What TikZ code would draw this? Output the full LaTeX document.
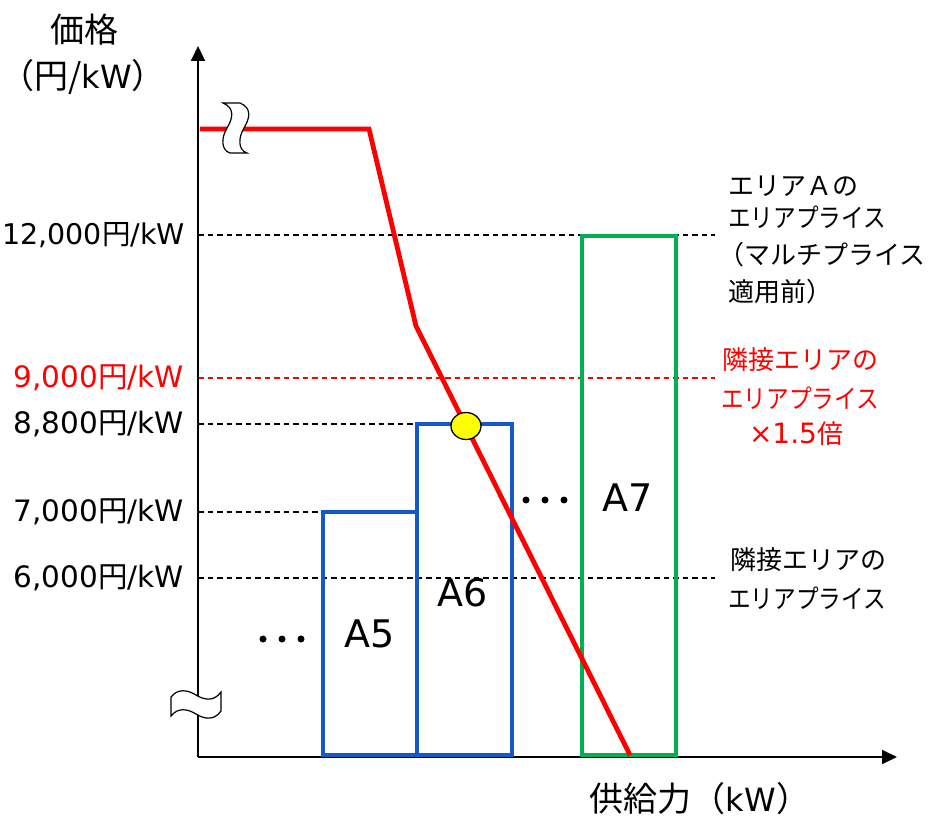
\documentclass[tikz,border=0pt]{standalone}
\usepackage{fontspec}
\setmainfont{DejaVu Sans}
\newfontfamily\jp{Noto Sans CJK JP}
\usetikzlibrary{arrows.meta,shapes.geometric}
\definecolor{myblue}{HTML}{1558C8}
\definecolor{mygreen}{HTML}{00B050}
\definecolor{myyellow}{HTML}{FFFF00}
\newcommand{\narrowtxt}[1]{\scalebox{0.87}[1]{#1}}
\begin{document}
\begin{tikzpicture}[x=1pt,y=-1pt,
  ylab/.style={anchor=east, inner sep=0pt, font=\fontsize{29.5}{31}\selectfont},
  jplab/.style={anchor=west, inner sep=0pt, font=\jp\fontsize{26}{28}\selectfont},
  redlab/.style={anchor=center, inner sep=0pt, text=red, font=\jp\fontsize{26}{28}\selectfont},
  titlelab/.style={anchor=center, inner sep=0pt, font=\jp\fontsize{34}{36}\selectfont},
  alab/.style={anchor=center, inner sep=0pt, font=\fontsize{38}{40}\selectfont},
  dashline/.style={dash pattern=on 5.5pt off 4pt, line width=1.2pt},
  axisline/.style={line width=1.8pt, -{Triangle[length=15pt,width=14pt]}},
  boxline/.style={line width=4.8pt},
  brk/.style={fill=white, draw=black, line width=1.2pt},
  dotmark/.style={fill=black}
]
\useasboundingbox (0,0) rectangle (932,818);

% coordinates
\coordinate (O) at (198,757);
\coordinate (ytip) at (198,46);
\coordinate (xtip) at (897,757);

\coordinate (d12a) at (198,235);  \coordinate (d12b) at (715,235);
\coordinate (d9a) at (198,378);   \coordinate (d9b) at (715,378);
\coordinate (d88a) at (198,424);  \coordinate (d88b) at (418,424);
\coordinate (d7a) at (198,512);   \coordinate (d7b) at (323,512);
\coordinate (d6a) at (198,578);   \coordinate (d6b) at (715,578);

% dashed lines
\draw[dashline] (d12a) -- (d12b);
\draw[dashline, red] (d9a) -- (d9b);
\draw[dashline] (d88a) -- (d88b);
\draw[dashline] (d7a) -- (d7b);
\draw[dashline] (d6a) -- (d6b);

% axes
\draw[axisline] (O) -- (ytip);
\draw[axisline] (O) -- (xtip);

% boxes
\draw[boxline, myblue] (323,755) rectangle (417,512);
\draw[boxline, myblue] (417,755) rectangle (512,424);
\draw[boxline, mygreen] (582,755) rectangle (676,236);

% supply curve
\coordinate (r0) at (200,129);
\coordinate (r1) at (369,129);
\coordinate (r2) at (416,326);
\coordinate (r3) at (630,755);
\draw[red, line width=4.8pt, line join=miter] (r0) -- (r1) -- (r2) -- (r3);

% intersection marker
\node[ellipse, draw=black, line width=1.3pt, fill=myyellow, minimum width=30pt, minimum height=27pt, inner sep=0pt] (pt) at (466,426) {};

% axis breaks
\draw[brk] (223,103) -- (240,103) .. controls (252,108) and (250,118) .. (244,128)
  .. controls (238,138) and (238,150) .. (247,153) -- (230,153)
  .. controls (221,150) and (221,138) .. (227,128)
  .. controls (233,118) and (235,108) .. (223,103) -- cycle;
\draw[brk] (171,697) .. controls (178,688) and (188,690) .. (196,695)
  .. controls (204,700) and (214,702) .. (221,692) -- (221,711)
  .. controls (214,721) and (204,719) .. (196,714)
  .. controls (188,709) and (178,707) .. (171,716) -- cycle;

% dots
\fill[dotmark] (263,639) circle (3.5pt);
\fill[dotmark] (282,639) circle (3.5pt);
\fill[dotmark] (301,639) circle (3.5pt);
\fill[dotmark] (526,500) circle (3.5pt);
\fill[dotmark] (545,500) circle (3.5pt);
\fill[dotmark] (564,500) circle (3.5pt);

% box labels
\node[alab] (a5) at (370,634) {A5};
\node[alab] (a6) at (463,593) {A6};
\node[alab] (a7) at (628,498) {A7};

% y labels
\node[ylab, font=\fontsize{28.5}{30}\selectfont] (l12) at (185,235) {12,000{\jp 円}/kW};
\node[ylab, text=red] (l9) at (184,378) {9,000{\jp 円}/kW};
\node[ylab] (l88) at (184,424) {8,800{\jp 円}/kW};
\node[ylab] (l7) at (184,512) {7,000{\jp 円}/kW};
\node[ylab] (l6) at (184,578) {6,000{\jp 円}/kW};

% axis titles
\node[titlelab] (t1) at (84,30) {価格};
\node[titlelab] (t2) at (83,77) {（円/{\rmfamily\fontsize{32}{34}\selectfont kW}）};
\node[titlelab] (t3) at (700,799) {供給力（{\rmfamily\fontsize{32}{34}\selectfont kW}）};

% right labels
\node[jplab] (r1a) at (728,186) {エリアＡの};
\node[jplab] (r1b) at (728,217) {\narrowtxt{エリアプライス}};
\node[jplab] (r1c) at (718,255) {（マルチプライス};
\node[jplab] (r1d) at (728,292) {適用前）};

\node[redlab] (r2a) at (800,360) {隣接エリアの};
\node[redlab] (r2b) at (800,398) {\narrowtxt{エリアプライス}};
\node[redlab] (r2c) at (796,434) {{\rmfamily\fontsize{28}{30}\selectfont ×1.5}倍};

\node[jplab] (r3a) at (730,560) {隣接エリアの};
\node[jplab] (r3b) at (728,598) {\narrowtxt{エリアプライス}};
\end{tikzpicture}
\end{document}
